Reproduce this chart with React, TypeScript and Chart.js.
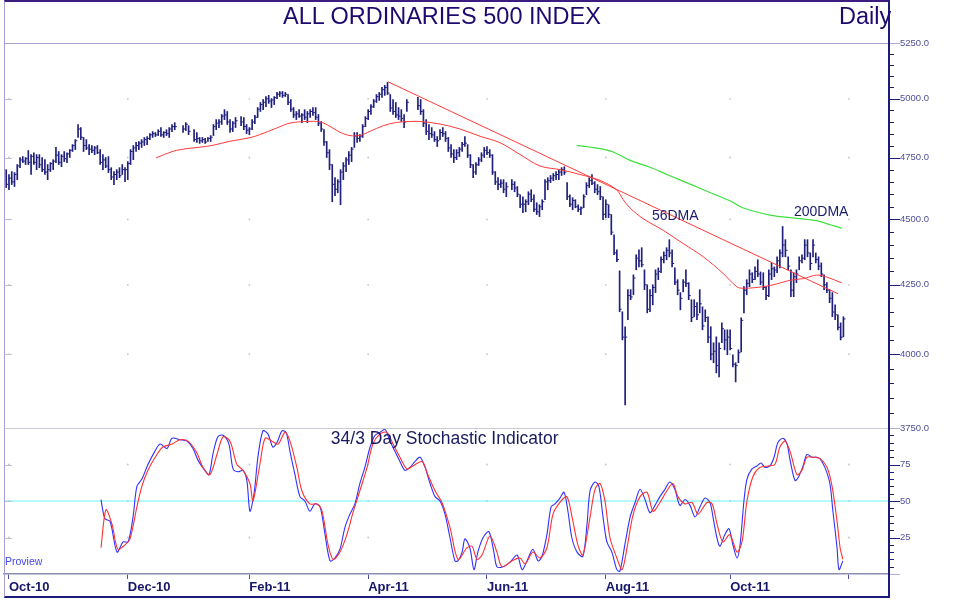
import React, { useEffect, useRef } from "react";
import { Chart, registerables } from "chart.js";

Chart.register(...registerables);
Chart.defaults.font.family = "'Liberation Sans', Arial, sans-serif";

// ---------- data (trading-day index 0 = 1 Oct 2010, weekdays) ----------
const FIRST_DAY = -1;

const highs: (number | null)[] = [
  4700, 4680, 4692, 4688, 4721, 4750, 4754, 4750, 4779, 4762,
  4770, 4762, 4762, 4750, 4741, 4721, 4729, 4741, 4792, 4775,
  4762, 4775, 4770, 4783, 4804, 4825, 4889, 4876, 4834, 4825,
  4804, 4800, 4796, 4800, 4783, 4762, 4750, 4754, 4708, 4692,
  4700, 4708, 4721, 4708, 4733, 4783, 4800, 4813, 4817, 4825,
  4834, 4838, 4850, 4859, 4855, 4867, 4876, 4859, 4867, 4876,
  4889, 4897, null, null, 4884, 4897, 4884, null, 4867, 4855,
  4834, 4834, 4830, 4834, 4842, 4889, 4910, 4910, 4932, 4953,
  4945, 4910, 4902, 4919, null, 4923, 4919, 4889, 4876, 4910,
  4928, 4962, 4984, 4997, 5010, 5015, 5001, 5010, 5028, 5032,
  5032, 5028, 5019, 4997, 4962, 4945, 4953, 4936, 4953, 4945,
  4953, 4962, 4962, 4932, 4902, 4867, 4817, 4783, 4721, 4667,
  4659, 4700, 4729, 4750, 4775, 4792, 4855, 4855, 4846, 4889,
  4923, 4953, 4975, 4997, 5019, 5028, 5050, 5059, 5072, 5019,
  4997, 4984, 4962, 4953, 4932, 4997, null, null, null, 5006,
  4997, 4953, 4910, 4889, 4876, 4859, 4838, 4867, 4876, 4859,
  4834, 4804, 4783, 4783, 4792, 4813, 4838, 4804, 4762, 4721,
  4729, 4750, 4770, 4792, 4796, 4783, 4762, 4692, 4667, 4659,
  4659, 4647, null, 4659, 4651, 4631, 4598, 4590, 4578, 4610,
  4618, 4598, 4566, 4558, 4578, 4659, 4667, 4676, 4684, 4692,
  4700, 4708, 4712, 4647, 4598, 4586, 4578, 4558, 4550, 4598,
  4647, 4667, 4680, 4651, 4639, 4631, 4590, 4578, 4558, 4519,
  4440, 4382, 4302, 4151, 4097, 4232, 4232, 4287, 4363, 4382,
  4390, 4306, 4250, 4232, 4250, 4306, 4313, 4355, 4374, 4390,
  4421, 4382, 4313, 4269, 4221, 4269, 4306, 4258, 4195, 4195,
  4184, 4232, 4169, 4158, 4133, 4097, 4040, 4061, 4040, 4111,
  4086, 4086, 4086, 3998, 3970, 4015, 4129, 4243, 4269, 4306,
  4295, 4317, 4344, 4298, 4295, 4243, 4306, 4332, 4317, 4355,
  4382, 4472, 4421, 4355, 4306, 4295, 4306, 4355, 4363, 4421,
  4421, 4370, 4421, 4370, 4355, 4332, 4287, 4258, 4232, 4221,
  4176, 4140, 4111, 4133,
];

const lows: (number | null)[] = [
  4627, 4618, 4639, 4631, 4659, 4708, 4729, 4721, 4721, 4680,
  4721, 4700, 4708, 4692, 4680, 4659, 4692, 4700, 4729, 4721,
  4712, 4733, 4729, 4750, 4775, 4783, 4834, 4825, 4775, 4783,
  4762, 4770, 4762, 4766, 4721, 4700, 4708, 4688, 4659, 4639,
  4659, 4667, 4680, 4651, 4659, 4721, 4741, 4775, 4783, 4792,
  4800, 4804, 4825, 4834, 4838, 4842, 4838, 4834, 4842, 4834,
  4859, 4867, null, null, 4855, 4863, 4846, null, 4817, 4813,
  4809, 4813, 4809, 4817, 4817, 4842, 4867, 4876, 4889, 4910,
  4889, 4855, 4859, 4876, null, 4884, 4867, 4850, 4846, 4867,
  4893, 4919, 4945, 4953, 4966, 4980, 4962, 4975, 5001, 5010,
  5006, 5010, 4975, 4945, 4919, 4910, 4919, 4897, 4910, 4897,
  4919, 4928, 4910, 4884, 4859, 4800, 4750, 4700, 4570, 4594,
  4606, 4558, 4659, 4692, 4721, 4733, 4792, 4813, 4817, 4834,
  4880, 4910, 4932, 4962, 4984, 4993, 5006, 5015, 5019, 4945,
  4932, 4919, 4910, 4902, 4876, 4945, null, null, null, 4953,
  4932, 4880, 4846, 4825, 4834, 4817, 4796, 4825, 4838, 4817,
  4775, 4750, 4729, 4741, 4754, 4775, 4796, 4750, 4708, 4667,
  4680, 4717, 4733, 4750, 4762, 4750, 4680, 4639, 4618, 4627,
  4606, 4590, null, 4618, 4610, 4590, 4546, 4526, 4530, 4558,
  4570, 4530, 4519, 4511, 4538, 4578, 4618, 4647, 4655, 4659,
  4659, 4676, 4680, 4578, 4550, 4538, 4546, 4530, 4519, 4546,
  4598, 4627, 4639, 4606, 4598, 4578, 4499, 4507, 4507, 4440,
  4363, 4337, 4151, 4050, 3826, 4122, 4195, 4213, 4306, 4317,
  4317, 4232, 4147, 4151, 4176, 4221, 4269, 4295, 4332, 4344,
  4355, 4317, 4250, 4213, 4158, 4224, 4243, 4195, 4115, 4133,
  4122, 4147, 4086, 4115, 4040, 3980, 3970, 3935, 3921, 4040,
  4015, 3998, 4015, 3956, 3904, 3970, 4008, 4147, 4213, 4243,
  4258, 4269, 4280, 4250, 4232, 4195, 4206, 4269, 4280, 4295,
  4313, 4355, 4355, 4306, 4206, 4206, 4258, 4306, 4332, 4344,
  4355, 4306, 4355, 4332, 4306, 4280, 4232, 4221, 4184, 4133,
  4122, 4086, 4050, 4061,
];

const closes: (number | null)[] = [
  4640, 4665, 4650, 4680, 4715, 4740, 4735, 4745, 4730, 4755,
  4730, 4750, 4720, 4700, 4690, 4700, 4725, 4735, 4760, 4730,
  4755, 4745, 4765, 4780, 4800, 4820, 4870, 4835, 4800, 4790,
  4785, 4780, 4790, 4770, 4730, 4740, 4715, 4700, 4670, 4680,
  4690, 4675, 4700, 4700, 4725, 4775, 4790, 4800, 4810, 4815,
  4825, 4830, 4845, 4850, 4845, 4860, 4845, 4855, 4850, 4870,
  4880, 4880, null, null, 4870, 4890, 4860, null, 4825, 4830,
  4820, 4825, 4815, 4830, 4835, 4880, 4895, 4900, 4925, 4930,
  4900, 4870, 4895, 4905, null, 4900, 4880, 4865, 4870, 4900,
  4920, 4955, 4975, 4985, 5000, 4990, 4995, 5005, 5020, 5025,
  5015, 5020, 4985, 4955, 4930, 4935, 4925, 4930, 4920, 4935,
  4945, 4940, 4920, 4895, 4870, 4815, 4770, 4720, 4640, 4620,
  4650, 4690, 4715, 4740, 4760, 4785, 4840, 4830, 4840, 4880,
  4915, 4945, 4965, 4990, 5010, 5020, 5040, 5050, 5025, 4960,
  4945, 4930, 4925, 4915, 4900, 4985, null, null, null, 4970,
  4945, 4895, 4860, 4850, 4845, 4825, 4820, 4855, 4850, 4830,
  4790, 4765, 4750, 4770, 4785, 4805, 4810, 4760, 4720, 4690,
  4720, 4740, 4760, 4780, 4770, 4760, 4690, 4650, 4640, 4645,
  4620, 4630, null, 4640, 4625, 4600, 4560, 4560, 4570, 4600,
  4580, 4540, 4530, 4550, 4570, 4650, 4655, 4665, 4675, 4680,
  4690, 4700, 4690, 4590, 4560, 4575, 4550, 4540, 4545, 4590,
  4635, 4655, 4645, 4620, 4610, 4590, 4520, 4560, 4520, 4450,
  4370, 4345, 4160, 4060, 4060, 4210, 4205, 4275, 4350, 4340,
  4325, 4250, 4160, 4210, 4240, 4290, 4300, 4345, 4360, 4380,
  4370, 4330, 4260, 4230, 4200, 4260, 4255, 4210, 4130, 4170,
  4140, 4180, 4100, 4130, 4060, 4000, 4010, 3960, 4020, 4090,
  4050, 4060, 4020, 3965, 3960, 4005, 4120, 4230, 4255, 4290,
  4270, 4300, 4290, 4260, 4240, 4210, 4290, 4310, 4305, 4340,
  4370, 4400, 4380, 4320, 4230, 4280, 4290, 4340, 4350, 4400,
  4370, 4330, 4400, 4345, 4320, 4290, 4250, 4230, 4200, 4150,
  4140, 4095, 4060, 4125,
];

// [day index, value]
const ma56: [number, number][] = [
  [53.2, 4748], [59.4, 4776], [64.4, 4787], [69.1, 4793], [73.8, 4801], [80.0, 4818],
  [87.2, 4833], [90.8, 4846], [96.9, 4874], [101.7, 4895], [107.7, 4902], [112.6, 4900],
  [116.2, 4881], [119.8, 4856], [123.4, 4842], [127.0, 4843], [130.7, 4860], [135.5, 4884],
  [140.3, 4898], [145.1, 4902], [148.8, 4902], [156.0, 4891], [163.2, 4870], [170.5, 4839],
  [177.7, 4812], [184.9, 4763], [192.2, 4715], [199.4, 4700], [206.7, 4680], [213.9, 4656],
  [219.9, 4618], [222.3, 4578], [224.8, 4545], [229.5, 4503], [236.8, 4457], [244.0, 4406],
  [251.3, 4355], [258.5, 4292], [263.4, 4243], [265.8, 4237], [273.0, 4243], [277.8, 4253],
  [282.7, 4267], [287.5, 4273], [292.3, 4286], [295.9, 4279], [301.4, 4257],
];

const ma200: [number, number][] = [
  [205.5, 4801], [213.9, 4787], [218.7, 4773], [224.8, 4738], [232.0, 4710], [239.2, 4675],
  [246.5, 4641], [253.7, 4607], [260.9, 4574], [265.8, 4545], [275.4, 4517], [285.1, 4504],
  [292.3, 4495], [297.2, 4479], [301.4, 4466],
];

const trendLine: [number, number][] = [
  [137.2, 5075], [300.0, 4217],
];

const stochK: [number, number][] = [
  [33.3, 51], [34.7, 38], [36.6, 36], [39.1, 15], [41.3, 22], [43.1, 22], [44.9, 39], [46.3, 60], [48.1, 65], [50.3, 75],
  [52.8, 84], [54.7, 89], [57.2, 86], [59.0, 93], [61.9, 92], [64.4, 91], [66.6, 86], [68.4, 78], [70.9, 71], [72.4, 68],
  [73.8, 82], [75.6, 94], [77.5, 95], [79.6, 89], [81.1, 72], [82.9, 70], [84.7, 71], [86.1, 64], [87.2, 43], [88.7, 55],
  [90.1, 80], [91.9, 98], [93.7, 96], [95.5, 87], [97.0, 90], [98.8, 98], [100.3, 97], [101.7, 84], [103.5, 68], [105.3, 53],
  [107.1, 50], [108.9, 43], [110.7, 48], [112.6, 46], [114.4, 27], [116.2, 9], [118.0, 11], [119.8, 17], [121.6, 32], [123.4, 41],
  [125.2, 48], [127.0, 62], [128.8, 73], [130.7, 87], [132.5, 95], [134.3, 97], [136.1, 99], [137.9, 91], [139.7, 84], [141.5, 77],
  [143.3, 71], [145.1, 73], [146.9, 77], [148.8, 80], [150.6, 73], [152.4, 62], [154.2, 53], [156.0, 50], [157.8, 41], [159.6, 25],
  [161.4, 9], [162.5, 9], [164.0, 15], [165.0, 24], [166.8, 18], [168.3, 3], [169.7, 15], [171.6, 25], [173.7, 29], [175.5, 15],
  [176.6, 5], [178.8, 5], [181.3, 8], [183.9, 13], [185.7, 3], [187.5, 9], [189.6, 17], [191.5, 9], [192.9, 12], [194.7, 27],
  [196.2, 46], [197.6, 48], [199.4, 52], [200.9, 56], [202.3, 43], [203.7, 25], [205.6, 15], [207.7, 12], [209.2, 34], [210.3, 57],
  [212.1, 63], [213.5, 60], [215.0, 39], [216.4, 22], [218.2, 15], [220.0, 3], [221.1, 2], [222.9, 20], [224.8, 39], [226.6, 49],
  [228.4, 58], [230.2, 51], [232.0, 42], [233.8, 47], [235.6, 53], [237.4, 58], [239.2, 63], [241.0, 58], [242.8, 47], [244.7, 51],
  [246.5, 47], [248.3, 39], [250.1, 46], [251.9, 52], [253.7, 49], [254.8, 39], [256.2, 25], [257.3, 19], [259.1, 27], [260.6, 31],
  [262.0, 20], [263.5, 11], [264.6, 20], [266.0, 50], [267.1, 65], [268.9, 72], [270.7, 74], [272.2, 76], [273.6, 73], [275.4, 74],
  [276.9, 80], [278.3, 90], [280.1, 93], [281.6, 89], [282.7, 78], [284.5, 64], [285.9, 67], [287.4, 74], [288.8, 82], [290.6, 80],
  [292.4, 80], [293.5, 79], [295.3, 73], [297.1, 62], [298.2, 43], [299.7, 18], [300.4, 3], [301.8, 9],
];

const stochD: [number, number][] = [
  [33.3, 18], [35.1, 44], [37.3, 34], [39.4, 17], [42.0, 20], [43.8, 24], [46.3, 46], [48.1, 60], [50.3, 71], [53.6, 82],
  [55.7, 87], [59.0, 89], [61.9, 92], [64.8, 91], [68.0, 83], [70.2, 73], [72.7, 68], [75.3, 82], [77.5, 94], [80.0, 91],
  [82.5, 75], [84.7, 71], [87.2, 62], [88.3, 50], [90.8, 75], [92.7, 93], [95.2, 91], [97.4, 89], [99.9, 97], [101.7, 91],
  [104.2, 73], [106.0, 57], [108.9, 48], [111.5, 48], [113.3, 43], [115.5, 20], [117.3, 10], [119.8, 15], [122.3, 27], [124.5, 42],
  [127.0, 57], [129.6, 73], [131.7, 89], [134.3, 96], [136.8, 97], [139.0, 89], [141.5, 80], [144.0, 72], [146.2, 74], [149.5, 77],
  [151.6, 68], [154.2, 57], [156.7, 49], [159.6, 32], [162.5, 10], [165.8, 18], [167.6, 19], [169.4, 10], [171.2, 13], [174.1, 26],
  [176.6, 15], [178.4, 5], [182.1, 9], [184.9, 11], [186.8, 7], [189.6, 15], [192.2, 11], [194.7, 18], [196.9, 41], [199.4, 49],
  [201.9, 53], [203.8, 39], [205.9, 20], [207.7, 13], [210.3, 39], [212.1, 58], [213.9, 62], [215.7, 50], [217.5, 25], [220.0, 11],
  [221.9, 3], [223.7, 18], [225.8, 40], [228.4, 53], [230.9, 56], [233.1, 43], [235.6, 49], [238.1, 57], [240.3, 62], [242.1, 53],
  [244.7, 48], [247.2, 49], [249.4, 41], [252.6, 49], [254.5, 48], [256.3, 34], [258.4, 22], [260.9, 27], [263.5, 15], [265.3, 22],
  [267.1, 50], [269.3, 67], [271.8, 73], [274.7, 74], [277.2, 75], [279.0, 87], [280.9, 91], [282.7, 84], [285.2, 68], [287.0, 71],
  [288.8, 80], [291.0, 80], [293.5, 79], [296.1, 73], [297.9, 60], [299.7, 36], [300.8, 18], [301.8, 10],
];

const STOCH_MID = 50;

const priceTicks = [
  3750, 3800, 3850, 3900, 3950, 4000, 4050, 4100, 4150, 4200, 4250, 4300, 4350, 4400, 4450, 4500,
  4550, 4600, 4650, 4700, 4750, 4800, 4850, 4900, 4950, 5000, 5050, 5100, 5150, 5200, 5250,
];
const priceMajor = [4000, 4250, 4500, 4750, 5000];
const priceEdges = [3750, 5250];
const stochTicks = [0, 5, 10, 15, 20, 25, 30, 35, 40, 45, 50, 55, 60, 65, 70, 75, 80, 85, 90, 95, 100];
const stochMajor = [25, 50, 75];
const stochEdges = [0, 100];
const monthTicks = [0, 43, 87, 130, 173, 216, 261, 304];
const monthLabels = ["Oct-10", "Dec-10", "Feb-11", "Apr-11", "Jun-11", "Aug-11", "Oct-11", ""];

const X_MIN = -1.8;
const X_MAX = 318.5;

// ---------- styles ----------
const NAVY = "#1c1c7a";
const BAR = "#1f1f7c";
const RED = "#ff3a3a";
const GREEN = "#3ee03e";
const TICK_LABEL = "#50509a";
const EDGE = "#b4aed8";
const DOT = "#c4c4cc";
const CYAN = "#6af4fc";

function makeAxisMarks(major: number[], edges: number[]) {
  return {
    id: "axisMarks",
    afterDraw(chart: any) {
      const s = chart.scales.y;
      const area = chart.chartArea;
      const ctx = chart.ctx;
      ctx.save();
      ctx.lineWidth = 1;
      for (const t of s.ticks) {
        const y = Math.round(s.getPixelForValue(t.value)) + 0.5;
        const isEdge = edges.includes(t.value);
        const isMajor = major.includes(t.value);
        ctx.strokeStyle = isEdge ? EDGE : NAVY;
        ctx.beginPath();
        ctx.moveTo(s.left, y);
        ctx.lineTo(s.left + (isEdge || isMajor ? 11 : 5), y);
        ctx.stroke();
        if (isMajor) {
          ctx.strokeStyle = "#c0c0d4";
          ctx.beginPath();
          ctx.moveTo(area.left, y);
          ctx.lineTo(area.left + 8, y);
          ctx.stroke();
        }
      }
      ctx.restore();
    },
  };
}

type TextItem = { text: string; x: number; y: number; font: string; color: string };
function makeTextMarks(items: TextItem[]) {
  return {
    id: "textMarks",
    afterDatasetsDraw(chart: any) {
      const ctx = chart.ctx;
      const xs = chart.scales.x;
      const ys = chart.scales.y;
      ctx.save();
      for (const it of items) {
        ctx.font = it.font;
        ctx.fillStyle = it.color;
        ctx.textAlign = "left";
        ctx.textBaseline = "middle";
        ctx.fillText(it.text, xs.getPixelForValue(it.x), ys.getPixelForValue(it.y));
      }
      ctx.restore();
    },
  };
}

const gridColor = (special: Record<number, string>) => (c: any) => {
  const v = c.tick ? c.tick.value : undefined;
  return v !== undefined && special[v] ? special[v] : "rgba(0,0,0,0)";
};

// fix axis sizes and drop the label padding Chart.js would add to the plot area
const fixWidth = (w: number) => (s: any) => {
  s.width = w;
  s.paddingTop = 0;
  s.paddingBottom = 0;
};
const fixHeight = (h: number) => (s: any) => {
  s.height = h;
  s.paddingLeft = 0;
  s.paddingRight = 0;
};

function dots(ys: number[]) {
  const out: { x: number; y: number }[] = [];
  for (const x of monthTicks) for (const y of ys) out.push({ x, y });
  return out;
}

function priceConfig(): any {
  const barData: any[] = [];
  const closeData: any[] = [];
  highs.forEach((h, k) => {
    const l = lows[k];
    const c = closes[k];
    if (h == null || l == null) return;
    const day = FIRST_DAY + k;
    barData.push({ x: day, y: [l, h] });
    if (c != null) closeData.push({ x: day + 0.36, y: c });
  });
  const pts = (a: [number, number][]) => a.map(([x, y]) => ({ x, y }));
  return {
    type: "bar",
    data: {
      datasets: [
        { type: "line", data: pts(trendLine), borderColor: RED, borderWidth: 1, pointRadius: 0, order: 1 },
        { type: "line", data: pts(ma56), borderColor: RED, borderWidth: 1, pointRadius: 0, tension: 0.35, order: 1 },
        { type: "line", data: pts(ma200), borderColor: GREEN, borderWidth: 1.2, pointRadius: 0, tension: 0.35, order: 1 },
        {
          type: "scatter", data: closeData, pointStyle: "line", pointRadius: 1.1,
          pointBorderColor: BAR, pointBorderWidth: 1, order: 2,
        },
        { type: "bar", data: barData, backgroundColor: BAR, barThickness: 1, borderWidth: 0, order: 3 },
        { type: "scatter", data: dots(priceMajor), pointRadius: 0.9, pointBackgroundColor: DOT, pointBorderWidth: 0, order: 4 },
      ],
    },
    options: {
      responsive: false,
      animation: false,
      events: [],
      layout: { autoPadding: false, padding: { left: 4, top: 43, right: 0, bottom: 12 } },
      plugins: { legend: { display: false }, tooltip: { enabled: false } },
      scales: {
        x: { type: "linear", min: X_MIN, max: X_MAX, display: false, offset: false, grid: { offset: false } },
        y: {
          type: "logarithmic",
          position: "right",
          min: 3750,
          max: 5250,
          afterFit: fixWidth(67),
          afterBuildTicks: (s: any) => { s.ticks = priceTicks.map((v) => ({ value: v })); },
          ticks: {
            autoSkip: false,
            padding: 11,
            color: TICK_LABEL,
            font: { size: 9.5 },
            callback: (v: number) => (priceMajor.includes(v) || priceEdges.includes(v) ? v.toFixed(1) : ""),
          },
          grid: { drawTicks: false, lineWidth: 1, color: gridColor({ 5250: "#a8a0d0", 3750: "#cacad6" }) },
          border: { display: true, color: NAVY, width: 1.5 },
        },
      },
    },
    plugins: [
      makeAxisMarks(priceMajor, priceEdges),
      makeTextMarks([
        { text: "56DMA", x: 232.7, y: 4514, font: "14px 'Liberation Sans', Arial", color: "#1a1a6e" },
        { text: "200DMA", x: 284.1, y: 4530, font: "14px 'Liberation Sans', Arial", color: "#1a1a6e" },
      ]),
    ],
  };
}

function stochConfig(): any {
  const pts = (a: [number, number][]) => a.map(([x, y]) => ({ x, y }));
  return {
    type: "line",
    data: {
      datasets: [
        { data: pts(stochD), borderColor: "#ff3030", borderWidth: 1.1, pointRadius: 0, tension: 0.3, order: 1 },
        { data: pts(stochK), borderColor: "#3030ff", borderWidth: 1.1, pointRadius: 0, tension: 0.3, order: 2 },
        {
          data: [{ x: X_MIN, y: STOCH_MID }, { x: X_MAX, y: STOCH_MID }],
          borderColor: CYAN, borderWidth: 1.2, pointRadius: 0, order: 3,
        },
        { type: "scatter", data: dots(stochMajor), pointRadius: 0.9, pointBackgroundColor: DOT, pointBorderWidth: 0, order: 4 },
      ],
    },
    options: {
      responsive: false,
      animation: false,
      events: [],
      layout: { autoPadding: false, padding: { left: 4, top: 0, right: 0, bottom: 0 } },
      plugins: { legend: { display: false }, tooltip: { enabled: false } },
      scales: {
        x: {
          type: "linear",
          position: "bottom",
          min: X_MIN,
          max: X_MAX,
          offset: false,
          afterFit: fixHeight(27),
          afterBuildTicks: (s: any) => { s.ticks = monthTicks.map((v) => ({ value: v })); },
          ticks: {
            autoSkip: false,
            maxRotation: 0,
            minRotation: 0,
            align: "start",
            padding: 1,
            color: "#16166a",
            font: { size: 13, weight: "bold" },
            callback: (_v: number, i: number) => monthLabels[i],
          },
          grid: { drawOnChartArea: false, drawTicks: true, tickLength: 5, color: "#5050a0", offset: false },
          border: { display: true, color: "#8c8cb4", width: 1.5 },
        },
        y: {
          type: "linear",
          position: "right",
          min: 0,
          max: 100,
          afterFit: fixWidth(67),
          afterBuildTicks: (s: any) => { s.ticks = stochTicks.map((v) => ({ value: v })); },
          ticks: {
            autoSkip: false,
            padding: 11,
            color: TICK_LABEL,
            font: { size: 9.5 },
            callback: (v: number) => (stochMajor.includes(v) ? String(v) : ""),
          },
          grid: { drawTicks: false, lineWidth: 1, color: gridColor({ 100: "#cacad6" }) },
          border: { display: true, color: NAVY, width: 1.5 },
        },
      },
    },
    plugins: [
      makeAxisMarks(stochMajor, stochEdges),
      makeTextMarks([
        { text: "34/3 Day Stochastic Indicator", x: 116.5, y: 92.5, font: "17.5px 'Liberation Sans', Arial", color: "#1a1a5e" },
        { text: "Proview", x: -1.45, y: 8, font: "10.5px 'Liberation Sans', Arial", color: "#4444ee" },
      ]),
    ],
  };
}

function ChartCanvas(props: { make: () => any; top: number; height: number }) {
  const ref = useRef<HTMLCanvasElement | null>(null);
  useEffect(() => {
    if (!ref.current) return;
    const chart = new Chart(ref.current, props.make());
    return () => chart.destroy();
  }, []);
  return (
    <canvas
      ref={ref}
      width={956}
      height={props.height}
      style={{ position: "absolute", left: 0, top: props.top, width: 956, height: props.height }}
    />
  );
}

const titleStyle: React.CSSProperties = {
  position: "absolute",
  top: 4.5,
  fontSize: 23.5,
  lineHeight: "22px",
  color: "#1e0a6e",
  whiteSpace: "nowrap",
};

export default function App() {
  return (
    <div
      style={{
        position: "fixed",
        left: 0,
        top: 0,
        width: 956,
        height: 601,
        background: "#ffffff",
        overflow: "hidden",
        fontFamily: "'Liberation Sans', Arial, sans-serif",
      }}
    >
      <ChartCanvas make={stochConfig} top={428} height={173} />
      <ChartCanvas make={priceConfig} top={0} height={440} />
      <div
        style={{
          position: "absolute",
          left: 4,
          top: 0,
          width: 886,
          height: 598,
          boxSizing: "border-box",
          borderTop: "2px solid #3c1c80",
          borderLeft: "1px solid #a89ed8",
          borderRight: "2px solid #1c1c7a",
          borderBottom: "2px solid #1c1c7a",
          pointerEvents: "none",
        }}
      />
      <div style={{ ...titleStyle, left: 283 }}>ALL ORDINARIES 500 INDEX</div>
      <div style={{ ...titleStyle, left: 839 }}>Daily</div>
    </div>
  );
}
